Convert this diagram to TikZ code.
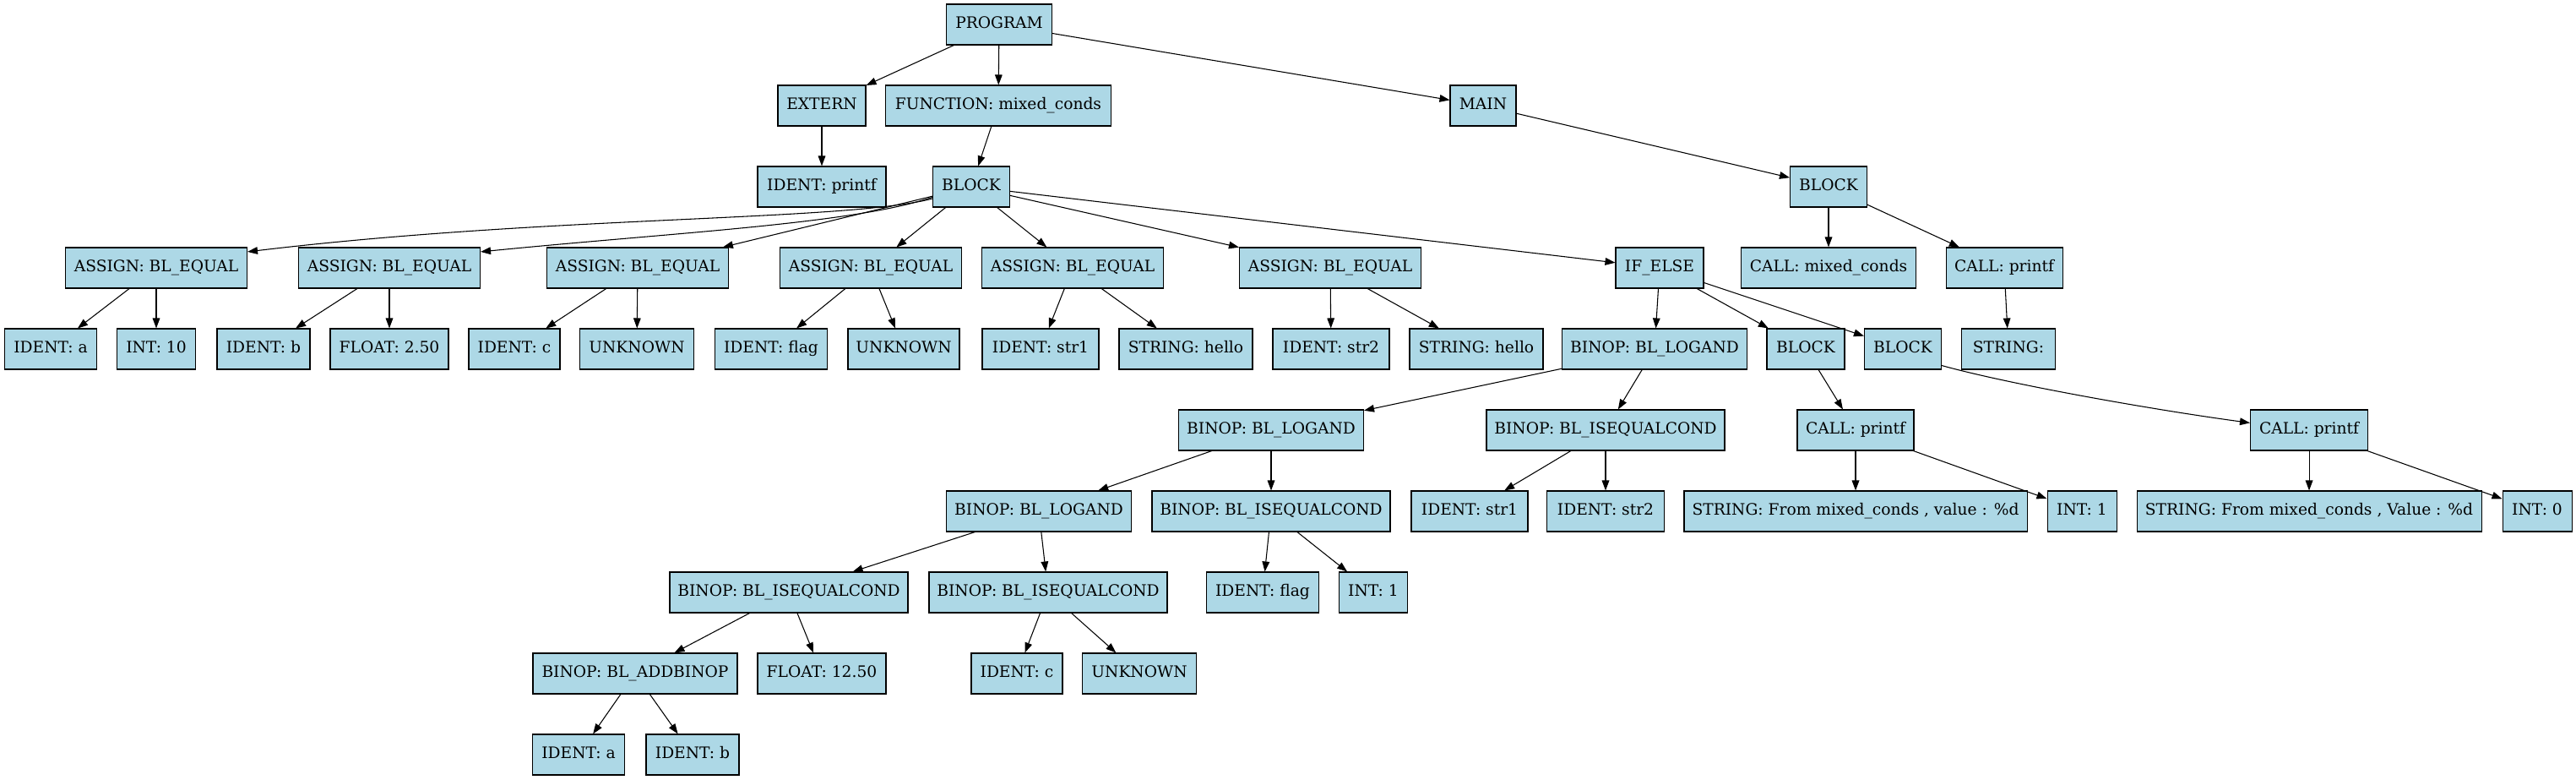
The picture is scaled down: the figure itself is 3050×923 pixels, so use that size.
\documentclass[tikz,border=0pt]{standalone}
\usepackage{fontspec}
\setmainfont{DejaVu Serif}
\usetikzlibrary{arrows.meta}
\definecolor{astblue}{HTML}{ADD8E6}
\tikzset{
  astnode/.style={draw, fill=astblue, line width=0.8pt, inner sep=0pt,
    minimum height=36pt, minimum width=0.75pt*#1,
    text height=10.5pt, text depth=3.5pt, font=\fontsize{14}{17}\selectfont},
  astedge/.style={->, line width=0.8pt},
}

\begin{document}
\begin{tikzpicture}[x=0.75pt, y=-0.75pt, >={Triangle[length=9pt, width=6.5pt]}]
  \path[use as bounding box, fill=white] (0,0) rectangle (3050,923);

  % top levels
  \node[astnode=125] (prog) at (1183,29) {PROGRAM};
  \node[astnode=104] (ext) at (973,125) {EXTERN};
  \node[astnode=267] (func) at (1182,125) {FUNCTION: mixed\_conds};
  \node[astnode=78] (main) at (1756,125) {MAIN};
  \node[astnode=152] (idpf) at (973,221) {IDENT: printf};
  \node[astnode=91] (fblk) at (1150,221) {BLOCK};
  \node[astnode=91] (mblk) at (2165,221) {BLOCK};

  % statements
  \node[astnode=215] (as1) at (185,317) {ASSIGN: BL\_EQUAL};
  \node[astnode=215] (as2) at (461,317) {ASSIGN: BL\_EQUAL};
  \node[astnode=215] (as3) at (755,317) {ASSIGN: BL\_EQUAL};
  \node[astnode=215] (as4) at (1031,317) {ASSIGN: BL\_EQUAL};
  \node[astnode=215] (as5) at (1270,317) {ASSIGN: BL\_EQUAL};
  \node[astnode=215] (as6) at (1575,317) {ASSIGN: BL\_EQUAL};
  \node[astnode=104] (ifel) at (1965,317) {IF\_ELSE};
  \node[astnode=207] (cmc) at (2165,317) {CALL: mixed\_conds};
  \node[astnode=138] (cpf) at (2373,317) {CALL: printf};

  % operands of the assignments
  \node[astnode=109] (ida) at (60,413) {IDENT: a};
  \node[astnode=93] (i10) at (185,413) {INT: 10};
  \node[astnode=110] (idb) at (312,413) {IDENT: b};
  \node[astnode=140] (f250) at (461,413) {FLOAT: 2.50};
  \node[astnode=108] (idc) at (609,413) {IDENT: c};
  \node[astnode=135] (unk1) at (754,413) {UNKNOWN};
  \node[astnode=133] (idfl) at (913,413) {IDENT: flag};
  \node[astnode=132] (unk2) at (1070,413) {UNKNOWN};
  \node[astnode=138] (ids1) at (1232,413) {IDENT: str1};
  \node[astnode=158] (sh1) at (1404,413) {STRING: hello};
  \node[astnode=138] (ids2) at (1576,413) {IDENT: str2};
  \node[astnode=158] (sh2) at (1748,413) {STRING: hello};
  \node[astnode=219] (band1) at (1959,413) {BINOP: BL\_LOGAND};
  \node[astnode=92] (bthen) at (2138,413) {BLOCK};
  \node[astnode=91] (belse) at (2253,413) {BLOCK};
  \node[astnode=111] (sempty) at (2378,413) {STRING:};

  % condition and branches
  \node[astnode=219] (band2) at (1505,509) {BINOP: BL\_LOGAND};
  \node[astnode=282] (beq1) at (1901,509) {BINOP: BL\_ISEQUALCOND};
  \node[astnode=138] (cpt) at (2197,509) {CALL: printf};
  \node[astnode=139] (cpe) at (2734,509) {CALL: printf};

  \node[astnode=219] (band3) at (1230,605) {BINOP: BL\_LOGAND};
  \node[astnode=282] (beq2) at (1505,605) {BINOP: BL\_ISEQUALCOND};
  \node[astnode=138] (s1) at (1740,605) {IDENT: str1};
  \node[astnode=139] (s2) at (1901,605) {IDENT: str2};
  \node[astnode=406] (strv) at (2197,605) {STRING: From mixed\_conds , value : \%d};
  \node[astnode=82] (int1) at (2465,605) {INT: 1};
  \node[astnode=408] (strV) at (2734,605) {STRING: From mixed\_conds , Value : \%d};
  \node[astnode=82] (int0) at (3004,605) {INT: 0};

  \node[astnode=282] (beq3) at (934,701) {BINOP: BL\_ISEQUALCOND};
  \node[astnode=282] (beq4) at (1241,701) {BINOP: BL\_ISEQUALCOND};
  \node[astnode=133] (idfl2) at (1495,701) {IDENT: flag};
  \node[astnode=81] (i1b) at (1626,701) {INT: 1};

  \node[astnode=242] (badd) at (752,797) {BINOP: BL\_ADDBINOP};
  \node[astnode=152] (f1250) at (973,797) {FLOAT: 12.50};
  \node[astnode=108] (idc2) at (1204,797) {IDENT: c};
  \node[astnode=135] (unk3) at (1349,797) {UNKNOWN};

  \node[astnode=109] (ida2) at (685,893) {IDENT: a};
  \node[astnode=110] (idb2) at (820,893) {IDENT: b};

  % straight edges
  \foreach \p/\c in {prog/ext, prog/func, prog/main, ext/idpf, func/fblk,
      main/mblk, fblk/as3, fblk/as4, fblk/as5, fblk/as6, fblk/ifel,
      mblk/cmc, mblk/cpf, as1/ida, as1/i10, as2/idb, as2/f250,
      as3/idc, as3/unk1, as4/idfl, as4/unk2, as5/ids1, as5/sh1,
      as6/ids2, as6/sh2, ifel/band1, ifel/bthen, ifel/belse, cpf/sempty,
      band1/band2, band1/beq1, bthen/cpt, band2/band3, band2/beq2,
      beq1/s1, beq1/s2, cpt/strv, cpt/int1, cpe/strV, cpe/int0,
      band3/beq3, band3/beq4, beq2/idfl2, beq2/i1b, beq3/badd,
      beq3/f1250, beq4/idc2, beq4/unk3, badd/ida2, badd/idb2}
    \draw[astedge] (\p) -- (\c);

  % bent edges
  \draw[astedge] (fblk.197) .. controls (1000,262) and (650,255) .. (as1.10);
  \draw[astedge] (fblk.195) .. controls (1010,265) and (800,275) .. (as2.10);
  \draw[astedge] (belse.-23) .. controls (2380,455) and (2550,485) .. (cpe.173);
\end{tikzpicture}
\end{document}
